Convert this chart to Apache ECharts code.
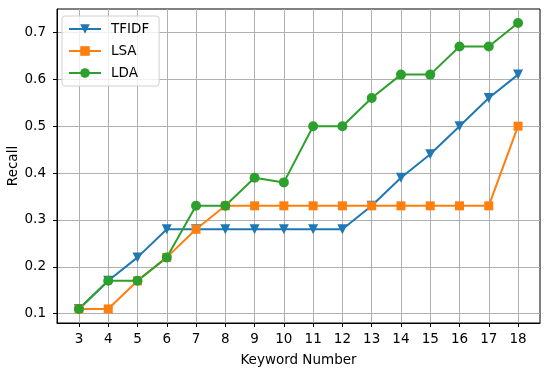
<!DOCTYPE html>
<html><head><meta charset="utf-8">
<script src="https://cdn.jsdelivr.net/npm/echarts@6/dist/echarts.min.js"></script>
<style>html,body{margin:0;padding:0;background:#fff}#c{width:550px;height:371px}</style>
</head><body><div id="c"></div>
<script>
const keywords = [3,4,5,6,7,8,9,10,11,12,13,14,15,16,17,18];
const tfidf = [0.11,0.17,0.22,0.28,0.28,0.28,0.28,0.28,0.28,0.28,0.33,0.39,0.44,0.50,0.56,0.61];
const lsa   = [0.11,0.11,0.17,0.22,0.28,0.33,0.33,0.33,0.33,0.33,0.33,0.33,0.33,0.33,0.33,0.50];
const lda   = [0.11,0.17,0.17,0.22,0.33,0.33,0.39,0.38,0.50,0.50,0.56,0.61,0.61,0.67,0.67,0.72];
const yTicks = [0.1,0.2,0.3,0.4,0.5,0.6,0.7];
const seriesNames = ['TFIDF','LSA','LDA'];
const colors = ['#1f77b4','#ff7f0e','#2ca02c'];
const font = 'DejaVu Sans';
const fs = 13.5;
const gridColor = '#b0b0b0';
const pair = arr => keywords.map((k,i)=>[k,arr[i]]);
const chart = echarts.init(document.getElementById('c'));
const tri = 'path://M0,0 L10,0 L5,9 Z';
const mk = (name, data, color, symbol, size) => ({
  name, type:'line', data: pair(data), symbol, symbolSize: size,
  lineStyle:{color, width:2}, itemStyle:{color}, emphasis:{disabled:true}
});
chart.setOption({
  animation:false,
  grid:{left:57, right:10, top:9, bottom:48, outerBoundsMode:'none', containLabel:false,
    show:true, borderColor:'#000', borderWidth:1, backgroundColor:'transparent'},
  graphic:[{type:'text', x:13, y:166, rotation:Math.PI/2,
    style:{text:'Recall', fontFamily:font, fontSize:fs, fill:'#000', align:'center', verticalAlign:'middle'}}],
  xAxis:{type:'value', min:2.25, max:18.75, interval:0.25,
    name:'Keyword Number', nameLocation:'middle', nameGap:30, nameMoveOverlap:false,
    nameTextStyle:{fontFamily:font, fontSize:fs, color:'#000'},
    axisLine:{show:true, lineStyle:{color:'#000'}},
    axisTick:{show:true, length:4, lineStyle:{color:'#000'}, customValues: keywords},
    axisLabel:{fontFamily:font, fontSize:fs, color:'#000', margin:9, customValues: keywords,
      formatter: v => String(Math.round(v))},
    splitLine:{show:true, lineStyle:{color:gridColor, width:1}}
  },
  yAxis:{type:'value', min:0.08, max:0.75, interval:0.01,
    axisLine:{show:true, lineStyle:{color:'#000'}},
    axisTick:{show:true, length:4, lineStyle:{color:'#000'}, customValues: yTicks},
    axisLabel:{fontFamily:font, fontSize:fs, color:'#000', margin:11, customValues: yTicks,
      formatter: v => v.toFixed(1)},
    splitLine:{show:true, lineStyle:{color:gridColor, width:1}}
  },
  legend:{left:62, top:16, orient:'vertical', itemWidth:32, itemHeight:12, itemGap:8,
    padding:[6,10,6,6], borderColor:'#d0d0d0', borderWidth:1, borderRadius:3,
    backgroundColor:'rgba(255,255,255,0.8)',
    textStyle:{fontFamily:font, fontSize:fs, color:'#000', padding:[0,0,0,5]},
    data: seriesNames},
  series:[
    mk(seriesNames[0], tfidf, colors[0], tri, 10),
    mk(seriesNames[1], lsa, colors[1], 'rect', 9),
    mk(seriesNames[2], lda, colors[2], 'circle', 10)
  ]
});
</script></body></html>
